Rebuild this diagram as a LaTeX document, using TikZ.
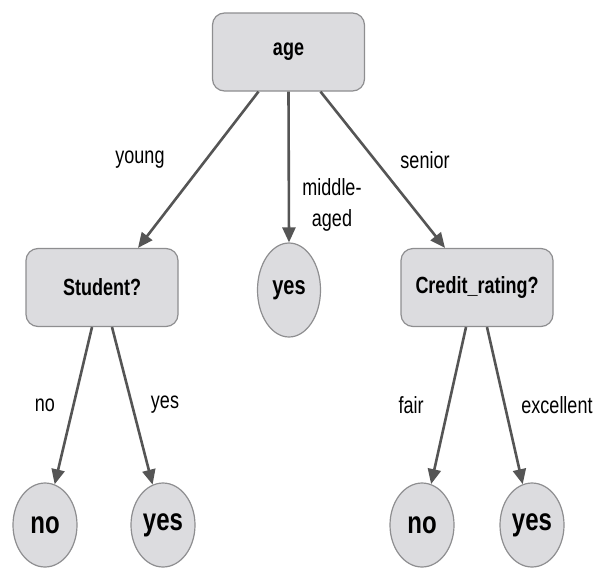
\documentclass[tikz,border=0pt]{standalone}
\usepackage{fontspec}
\usepackage{graphicx}
\setmainfont{Liberation Sans}
\usetikzlibrary{arrows.meta,shapes.geometric}
\definecolor{nodefill}{HTML}{DCDCDF}
\definecolor{nodeline}{HTML}{8E8E90}
\definecolor{arrowcol}{HTML}{555555}
\newcommand{\tallt}[1]{\scalebox{1}[1.3]{#1}}
\tikzset{
  boxnode/.style={draw=nodeline, line width=1.2pt, fill=nodefill, rounded corners=12pt,
    minimum width=152pt, minimum height=78pt, inner sep=0pt,
    font=\fontsize{18}{20}\selectfont\bfseries},
  leafnode/.style={draw=nodeline, line width=1.2pt, fill=nodefill, ellipse,
    minimum width=63pt, minimum height=94pt, inner sep=0pt,
    font=\fontsize{20}{22}\selectfont\bfseries},
  lowleaf/.style={leafnode, minimum width=64pt, minimum height=84pt,
    font=\fontsize{24}{26}\selectfont\bfseries},
  edgelabel/.style={font=\fontsize{18}{24}\selectfont, inner sep=0pt, align=center},
  conn/.style={draw=arrowcol, line width=2.6pt,
    -{Triangle[length=15pt,width=13pt]}, shorten >=0pt},
}
\begin{document}
\begin{tikzpicture}[x=1pt,y=-1pt]
\useasboundingbox (0,0) rectangle (599,568);
\node[boxnode] (age) at (288.5,52) {\tallt{age}};
\node[boxnode] (student) at (102,287.5) {\tallt{Student?}};
\node[boxnode] (credit) at (477,287.5) {\tallt{Credit\_rating?}};
\node[leafnode] (mid) at (289,290) {\tallt{yes}};
\node[lowleaf] (no1) at (45,525) {\tallt{no}};
\node[lowleaf] (yes1) at (163,525) {\tallt{yes}};
\node[lowleaf] (no2) at (422,525) {\tallt{no}};
\node[lowleaf] (yes2) at (532,525) {\tallt{yes}};

\draw[conn] ([xshift=-30pt]age.south) -- ([xshift=36pt]student.north);
\draw[conn] (age.south) -- (mid.north);
\draw[conn] ([xshift=32pt]age.south) -- ([xshift=-32pt]credit.north);
\draw[conn] ([xshift=-10pt]student.south) -- (no1);
\draw[conn] ([xshift=10pt]student.south) -- (yes1);
\draw[conn] ([xshift=-11pt]credit.south) -- (no2);
\draw[conn] ([xshift=10pt]credit.south) -- (yes2);

\node[edgelabel] (lyoung) at (140,160) {\tallt{young}};
\node[edgelabel] (lmid) at (332,205) {\tallt{\begin{tabular}{@{}c@{}}middle-\\aged\end{tabular}}};
\node[edgelabel] (lsenior) at (425,160) {\tallt{senior}};
\node[edgelabel] (lno1) at (45,405) {\tallt{no}};
\node[edgelabel] (lyes1) at (165,405) {\tallt{yes}};
\node[edgelabel] (lfair) at (411,405) {\tallt{fair}};
\node[edgelabel] (lexc) at (557,405) {\tallt{excellent}};
\end{tikzpicture}
\end{document}
